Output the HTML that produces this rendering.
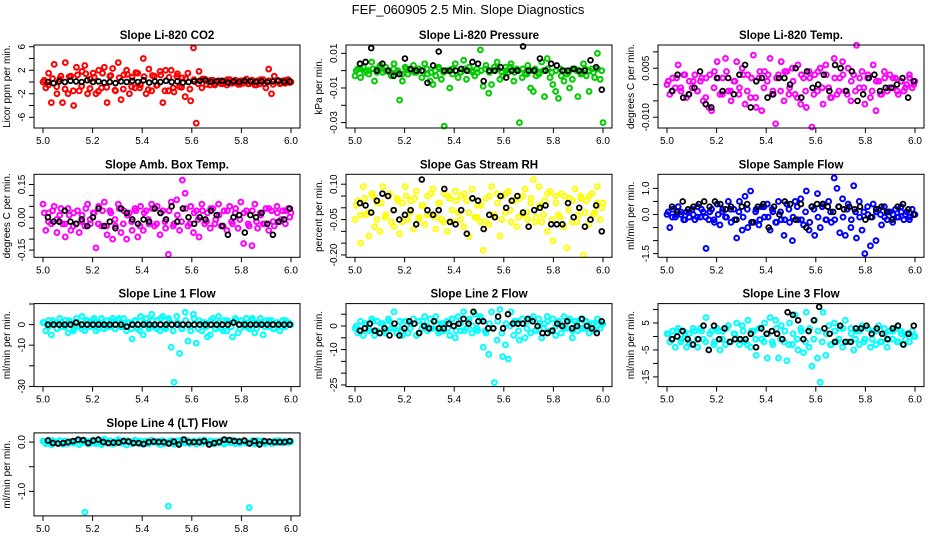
<!DOCTYPE html>
<html><head><meta charset="utf-8"><style>
html,body{margin:0;padding:0;background:#fff}
svg{display:block;font-family:"Liberation Sans",sans-serif}
</style></head><body>
<svg id="chart" width="936" height="540" viewBox="0 0 936 540">
<text x="468" y="14" text-anchor="middle" font-size="13">FEF_060905  2.5 Min. Slope Diagnostics</text>
</svg>
<script>
// ---- data (colored series: values per record; black: 30-min averages) ----
const co2Vals=[0,-1,1.5,-3.5,3,-2,0.5,-3.5,3.3,-2,1,-4,2.5,-1.5,1.8,2.8,-2,0.5,1.5,-2,2,-1,2.5,-3.5,1,2.3,-1.5,3.3,-3,1.2,2,-2,0.8,-1,1.5,-0.5,4,-2,2.2,-1.5,1,-0.5,1.8,-3.5,2,-1.5,2,-1.7,1,-0.8,0.7,-2.5,1.5,-3.2,5.8,-7,1.8,-1,0.5,0.2,-0.5,0.3,-0.3,0.2,-0.3,0.1,-0.5,0.4,-0.2,0.3,-0.4,0.2,-0.2,0.5,-0.3,0.3,-0.5,0.2,-0.3,0.4,-1,2.2,-2,1,0.3,-0.3,0.2,-0.2,0.4,0];
const co2Core=[0.3,-0.5,0.6,-0.8,1,-1.2,0.9,-1.5,1.2,-0.7,1.4,-1.1,0.8,-1.6,1.5,-0.9,1.1,-1.4,0.7,-1.2,1.3,-0.8,1.6,-1,0.9,-1.3,1.1,-0.6,1.2,-1.5,0.8,-1,1.4,-0.9,0.6,-1.2,0.4,-0.3,0.5,-0.4,0.3,-0.5,0.2,-0.3,0.4,-0.2,0.3,-0.4,0.2,-0.3,0.3,-0.5,0.4,-0.3,0.2,-0.4,0.3,-0.2,0.3,-0.1];
const co2Avg=[0,-0.2,0.1,0,0.2,0.1,0,0.3,0,0.1,-0.1,0,-0.2,0.1,0,0.2,0,0.3,-0.1,0.1,0,0.2,0,0.1,-0.1,0,0.1,0.2,0.3,0,0.1,0.2,-0.1,0.1,0,0.2,0.1,0,0.1,0,0.1,0.2,0,0.1];
const presVals=[-0.003,0.001,-0.004,0.002,0,-0.002,0.005,-0.006,0.001,0.003,-0.001,0.002,0,-0.003,0.004,-0.001,-0.017,-0.006,0.002,-0.002,0,0.003,-0.001,0.001,-0.004,0.004,-0.002,-0.006,-0.008,-0.003,0.002,-0.005,-0.032,0,-0.01,-0.002,0.004,-0.004,-0.001,0.006,-0.005,0.002,0,-0.003,-0.001,0.012,-0.009,0.003,-0.013,-0.008,0.002,0.005,-0.005,-0.003,0.002,-0.001,0.004,-0.006,0.001,-0.03,-0.004,-0.002,0.003,-0.01,-0.012,-0.003,-0.002,0.005,-0.015,0.007,-0.004,-0.008,-0.012,-0.016,-0.003,-0.006,-0.002,-0.01,-0.005,0.001,-0.015,-0.002,0.004,-0.003,-0.012,0.001,-0.004,0.01,-0.005,-0.03];
const presCore=[0,0.001,-0.001,0,0.001,-0.001,0.002,0,-0.001,0.001,0,-0.002,0.001,0,-0.001,0.001,0,0.001,-0.001,0,0.001,-0.001,0,0.001,0,-0.001,0.001,0,-0.001,0.001,0,0.001,-0.001,0,0.001,-0.001,0,0.002,-0.001,0,0.001,-0.002,0,0.001,-0.001,0,0.001,-0.001,0,0.001,0,-0.001,0.001,0,-0.001,0.001,0,-0.001,0.001,0];
const presAvg=[0.004,0.005,0.013,0,0.004,0,-0.003,-0.002,0.007,0.001,0,0,-0.007,0.003,0.011,0,0,0,0.001,0,0.005,0.004,-0.006,0,0,0.002,-0.004,0,0,0.014,0,0,0.007,0,0.004,0.003,0,0,0.001,0,0,0.006,0.002,-0.011];
const tempVals=[0,-0.003,0.002,-0.001,0.006,-0.002,0.003,-0.004,0.001,-0.001,0.003,-0.002,0.001,-0.005,0.002,-0.007,-0.008,0.004,0.007,-0.003,0.002,0.008,-0.002,-0.005,0.001,0.007,-0.001,0.005,-0.006,0.003,-0.004,0.009,-0.007,0.002,-0.008,0.004,0.001,0.008,-0.002,-0.012,0.003,0.007,-0.005,0.004,-0.001,0.005,-0.003,0.006,-0.006,0.002,-0.007,0.004,-0.013,0.003,-0.002,0.005,-0.006,0.006,-0.001,-0.004,0.008,-0.003,0.002,0.007,-0.002,0.005,-0.005,0.003,0.012,-0.001,0.004,-0.006,0.002,-0.004,0.006,-0.008,0.001,-0.003,0.004,-0.002,0.003,-0.001,0.002,-0.003,0.001,-0.002,0,0.003,-0.001,0.001];
const tempCore=[0.001,-0.002,0.002,-0.001,0.003,-0.003,0.001,-0.002,0.002,-0.004,0.003,-0.001,0.002,-0.003,0.004,-0.002,0.001,-0.003,0.003,-0.002,0.002,-0.004,0.004,-0.001,0.003,-0.003,0.002,-0.002,0.004,-0.003,0.001,-0.004,0.003,-0.002,0.002,-0.003,0.004,-0.001,0.003,-0.004,0.002,-0.002,0.003,-0.003,0.001,-0.002,0.002,-0.001,0.003,-0.002,0.001,-0.003,0.002,-0.001,0.002,-0.002,0.001,-0.001,0.002,0];
const tempAvg=[-0.002,0.003,-0.004,-0.003,-0.001,0.004,-0.006,-0.007,0.002,-0.002,0.002,-0.003,0.003,0.006,-0.007,0.001,0.002,-0.004,-0.003,0.002,0.002,0,0.005,-0.004,0.004,-0.001,0,0.003,-0.002,0.006,0.005,-0.002,0.004,-0.005,-0.003,0.002,0.003,-0.002,-0.001,-0.001,0,0.002,-0.004,0.001];
const ambVals=[0.06,-0.06,0.02,-0.03,0.05,-0.07,0.01,-0.03,-0.09,0.04,-0.06,0.02,-0.03,-0.07,0.01,-0.04,0.06,-0.03,0.02,-0.14,0.05,-0.04,0.07,-0.08,0.03,-0.1,-0.04,0.06,-0.07,0.03,-0.1,0.02,-0.06,0.04,-0.09,0.05,-0.06,0.03,-0.03,0.06,-0.04,0.05,-0.08,0.03,-0.05,-0.17,0.07,-0.03,0.08,-0.06,0.17,0.11,-0.04,0.05,-0.07,0.03,-0.09,0.06,-0.03,0.02,-0.05,0.04,-0.01,0.06,-0.04,0.03,-0.06,0.05,-0.03,0.02,-0.05,0.07,-0.12,0.03,-0.04,-0.13,0.06,-0.05,0.02,-0.03,0.04,-0.06,0.03,-0.04,0.05,-0.02,0.03,-0.03,0.04,0.02];
const ambCore=[0.02,-0.02,0.03,-0.01,0.04,-0.03,0.01,-0.04,0.03,-0.02,0.04,-0.01,0.02,-0.03,0.03,-0.04,0.02,-0.01,0.04,-0.03,0.01,-0.02,0.03,-0.04,0.02,-0.01,0.04,-0.03,0.02,-0.02,0.03,-0.04,0.01,-0.02,0.04,-0.03,0.02,-0.01,0.03,-0.02,0.04,-0.03,0.01,-0.04,0.03,-0.02,0.04,-0.01,0.02,-0.03,0.03,-0.02,0.01,-0.03,0.04,-0.02,0.02,-0.01,0.03,0];
const ambAvg=[0,-0.02,-0.02,0.03,-0.02,-0.03,-0.01,-0.04,0,0.04,-0.04,-0.02,-0.05,0.04,0.02,-0.01,-0.03,-0.01,-0.02,0.04,0.02,-0.01,0.05,-0.02,0.04,0,-0.03,0,-0.01,0.03,0.01,-0.04,-0.08,0,0.01,-0.07,0.01,0,0.02,-0.03,-0.08,-0.02,-0.01,0.04];
const rhVals=[-0.05,0.03,-0.15,0.09,-0.03,-0.12,0.06,-0.08,0.02,-0.1,0.09,-0.03,0.05,-0.06,-0.08,0.04,-0.11,0.02,0.09,-0.05,0.03,-0.09,0.07,-0.04,0.01,-0.07,0.05,-0.03,0.08,-0.09,0.02,-0.05,0.06,-0.1,0.04,-0.06,0.07,-0.02,0.05,-0.08,0.03,-0.12,0.08,-0.04,0.01,-0.06,-0.18,0.04,-0.07,0.09,-0.03,0.06,-0.12,0.05,-0.02,0.07,-0.06,0.03,-0.08,0.04,-0.03,0.08,-0.05,0.02,0.12,-0.04,0.09,-0.06,0.03,-0.1,0.07,-0.14,0.05,-0.03,0.06,-0.08,-0.17,0.04,-0.06,0.08,-0.03,0.05,-0.2,0.03,-0.07,0.06,-0.02,0.09,-0.05,0.02];
const rhCore=[0.01,-0.03,0.04,-0.02,0.05,-0.05,0.02,-0.04,0.06,-0.01,0.03,-0.06,0.05,-0.02,0.04,-0.05,0.01,-0.03,0.06,-0.04,0.02,-0.06,0.05,-0.01,0.03,-0.05,0.06,-0.02,0.04,-0.04,0.01,-0.06,0.05,-0.03,0.02,-0.05,0.06,-0.01,0.03,-0.04,0.05,-0.02,0.04,-0.06,0.01,-0.03,0.06,-0.05,0.02,-0.04,0.05,-0.01,0.03,-0.06,0.04,-0.02,0.05,-0.03,0.02,0];
const rhAvg=[0.02,0.01,-0.02,0.03,0.06,0.05,-0.01,-0.05,-0.03,-0.01,-0.07,0.12,-0.01,-0.03,-0.01,0.08,-0.06,-0.07,-0.01,-0.11,0.04,0.03,-0.09,-0.03,-0.04,0.05,0,0.03,0.05,-0.02,-0.08,-0.01,0,0.01,-0.07,-0.07,-0.07,0.02,-0.04,0,-0.08,-0.05,0.01,-0.1];
const sampVals=[0,-0.5,0.2,-0.1,0.3,0,-0.2,0.1,-0.1,0.2,-0.2,0.3,-0.1,0.1,-1.3,-0.2,0.2,-0.3,0.4,-0.4,0.2,-0.1,0.5,-0.3,0.2,-0.9,0.5,-0.6,0.7,-0.5,0.9,-0.3,0.2,-0.4,0.3,-0.1,0.4,-0.6,0.1,-0.3,0.5,-0.2,-0.8,0.4,-0.3,-1,0.5,-0.2,0.6,-0.4,0.9,-0.6,0.3,-0.8,0.8,-0.5,0.4,-0.2,0.5,-0.3,1.4,1,-0.7,0.6,-0.8,0.4,-0.5,1.1,-0.9,0.5,-0.6,-1.5,0.3,-1.2,0.4,-1,0.2,-0.4,0.3,-0.2,0.1,-0.3,0.2,-0.1,0.3,-0.2,0.1,-0.2,0.2,0];
const sampCore=[0.1,-0.1,0,0.1,-0.2,0.1,0,-0.1,0.2,-0.1,0.1,-0.2,0,0.1,-0.1,0.2,-0.2,0.1,-0.1,0.2,-0.3,0.1,-0.2,0.3,-0.1,0.2,-0.3,0.1,-0.2,0.2,-0.1,0.3,-0.2,0.1,-0.3,0.2,-0.1,0.3,-0.2,0.1,-0.2,0.3,-0.1,0.2,-0.2,0.1,-0.1,0.1,0,-0.1,0.1,0,-0.1,0.1,0,-0.1,0.1,0,-0.1,0];
const sampAvg=[0.3,0.1,0.5,0.2,0.3,0.4,0.5,0.3,0.5,0.4,0.2,0.3,-0.2,0.3,0.4,-0.3,0.3,0.4,-0.5,0.3,0,0.5,0.4,-0.2,0.4,-0.5,0.3,0.4,0.4,0.3,0.1,0.3,0.2,0.3,0.2,0.3,-0.2,-0.1,0.2,0.3,0.1,-0.2,0.3,0.4,0.2,0];
const l1Vals=[1,-3,2,-5,1,-2,3,-1,2,-4,1,-2,3,-1,4,-3,2,-1,2,-3,1,3,-2,2,-1,3,-2,2,-1,3,-3,1,-7,2,-2,4,-5,3,-2,5,-1,2,-3,4,-2,3,-11,-28,4,-14,-2,6,-8,-3,5,-9,2,-3,1,-6,-5,3,-2,4,-2,2,-3,1,-6,3,-4,2,-1,3,-2,2,-4,1,3,-5,2,-1,2,-2,1,-3,2,-1,1,0];
const l1Core=[1,-1,2,-2,1,-1,2,-3,1,-2,2,-1,3,-2,1,-1,2,-2,3,-1,1,-2,2,-3,1,-1,2,-2,3,-1,2,-3,1,-2,2,-1,3,-2,1,-1,2,-2,1,-3,2,-1,2,-2,1,-1,3,-2,1,-1,2,-2,1,-1,2,0];
const l1Avg=[0,0,0,0,0,1,0,0,0,0,0,0,0,0,-1,0,0,0,0,0,0,0,0,0,0,0,0,0,0,0,0,0,0,1,0,0,0,0,0,0,0,0,0,0];
const l2Vals=[-1,-3,2,-4,1,-2,3,-4,2,-3,1,-2,3,-1,6,-3,2,-4,2,-3,1,3,-4,2,-1,4,-2,3,-1,4,-3,1,-2,2,-4,3,-5,4,-2,6,-1,3,-3,5,-2,4,-9,-3,-12,6,-24,-6,7,-13,-8,-14,6,-4,2,-6,3,-5,2,-3,4,-2,3,-5,1,4,-2,3,-4,2,-3,4,-1,3,-5,2,-2,3,-1,2,-3,1,-2,3,-1,1];
const l2Core=[0,-2,1,-1,2,-2,1,-3,2,-1,0,-2,2,-1,1,-3,2,0,-1,2,-2,1,-1,3,-2,1,-2,2,0,-1,3,-2,1,-1,2,-3,1,0,2,-2,1,-1,3,-2,1,-1,2,-2,0,1,-1,2,-2,1,-1,2,-1,1,0,1];
const l2Avg=[-2,-1,1,-2,-3,-1,-4,1,-4,-1,2,1,-3,0,-1,2,-1,-1,1,0,1,3,1,6,2,2,-1,-1,4,-1,5,1,1,1,3,2,0,-3,-3,-2,1,0,2,-1,0,3,0,-1,-3,2];
const l3Vals=[1,-2,2,-4,3,-1,2,-4,1,-3,2,-4,3,-1,7,-5,2,-2,3,-5,2,-3,4,-2,1,5,-3,4,-2,6,-4,2,-7,3,-1,5,-8,7,-3,6,-8,4,-2,-9,5,-3,8,-5,3,-6,9,-4,-11,6,-8,-17,9,-7,4,-3,5,-2,3,-4,6,-2,3,-5,2,-3,4,-1,3,-4,2,-3,4,-2,3,-4,2,-1,3,-2,2,-3,1,-2,2,0];
const l3Core=[1,-1,2,-2,1,-2,3,-1,2,-2,1,-3,2,-1,3,-2,1,-1,2,-3,2,-1,3,-2,1,-2,3,-1,2,-3,1,-1,2,-2,3,-1,2,-2,1,-3,2,-1,3,-2,1,-1,2,-2,3,-1,2,-2,1,-1,2,-2,1,-1,1,0];
const l3Avg=[-1,0,2,-1,-3,-1,4,-5,4,-1,3,-2,-1,-1,-1,1,-4,3,1,2,1,-1,9,8,6,-1,2,6,11,3,1,-2,4,-2,-2,3,3,4,1,3,1,-1,3,4,-3,1,4];
const l4Vals=[0.02,-0.03,0.04,-0.05,0.01,-0.02,0.03,-0.04,0.02,-0.03,0.01,-0.02,0.03,-0.05,0.01,-1.42,-0.03,0.02,0.04,-0.03,0.02,-0.05,0.06,-0.02,0.03,-0.04,0.01,0.05,-0.02,0.03,-0.06,0.01,-0.03,0.04,-0.02,0.02,-0.04,0.02,-0.03,0.04,-0.01,0.02,-0.05,0.03,-0.01,-1.3,0.03,-0.04,0.02,-0.03,0.05,-0.02,0.03,-0.01,0.02,-0.04,0.03,-0.02,0.04,-0.01,0.02,-0.03,0.01,-0.02,0.03,-0.04,0.02,-0.01,0.04,-0.03,0.02,-0.01,0.03,-0.02,-1.33,0.02,-0.04,0.03,-0.01,0.02,-0.02,0.01,-0.03,0.02,-0.01,0.03,-0.02,0.01,-0.01,0.01];
const l4Core=[0.01,-0.02,0.03,-0.01,0.02,-0.03,0.01,-0.02,0.03,-0.01,0.02,-0.03,0.01,-0.02,0.03,-0.01,0.02,-0.03,0.01,-0.02,0.03,-0.01,0.02,-0.03,0.01,-0.02,0.03,-0.01,0.02,-0.03,0.01,-0.02,0.03,-0.01,0.02,-0.03,0.01,-0.02,0.03,-0.01,0.02,-0.03,0.01,-0.02,0.03,-0.01,0.02,-0.03,0.01,-0.02,0.03,-0.01,0.02,-0.03,0.01,-0.02,0.03,-0.01,0.02,0];
const l4Avg=[0.03,-0.02,-0.03,-0.02,0,0.02,0.05,0.04,-0.02,0.03,0.05,0,-0.02,-0.01,-0.01,0.02,0.01,-0.02,-0.02,-0.04,0,0.01,0,0,-0.03,0.01,-0.05,0.05,0,0,0,0.02,-0.05,-0.02,0,0.05,0.04,0.02,0.01,0.03,-0.03,0.02,-0.05,0.02,0.01,0,0,0,0.02];
const xTicks=[5.0,5.2,5.4,5.6,5.8,6.0];
const xTickLabels=["5.0","5.2","5.4","5.6","5.8","6.0"];
const panelTitles=["Slope Li-820 CO2","Slope Li-820 Pressure","Slope Li-820 Temp.","Slope Amb. Box Temp.","Slope Gas Stream RH","Slope Sample Flow","Slope Line 1 Flow","Slope Line 2 Flow","Slope Line 3 Flow","Slope Line 4 (LT) Flow"];
const yAxisTitles=["Licor ppm per min.","kPa per min.","degrees C per min.","degrees C per min.","percent per min.","ml/min per min.","ml/min per min.","ml/min per min.","ml/min per min.","ml/min per min."];
const yTicks=[[6,4,2,0,-2,-4,-6],[0.01,0,-0.01,-0.02,-0.03],[0.01,0.005,0,-0.005,-0.01],[0.15,0.1,0.05,0,-0.05,-0.1,-0.15],[0.1,0.05,0,-0.05,-0.1,-0.15,-0.2],[1,0.5,0,-0.5,-1,-1.5],[10,0,-10,-20,-30],[5,0,-5,-10,-15,-20,-25],[10,5,0,-5,-10,-15],[0,-0.5,-1]];
const yTickLabels=[["6","","2","","-2","","-6"],["0.01","","-0.01","","-0.03"],["","0.005","","","-0.010"],["0.15","","","0.00","","","-0.15"],["0.10","","","-0.05","","","-0.20"],["1.0","","0.0","","","-1.5"],["","0","-10","","-30"],["","0","","-10","","","-25"],["","5","","-5","","-15"],["0.0","","-1.0"]];
const yDomains=[[6.29,-7.82],[0.0148,-0.0331],[0.0121,-0.0133],[0.1965,-0.183],[0.142,-0.21],[1.54,-1.64],[10.2,-30.1],[9.5,-25.7],[12.2,-18.6],[0.186,-1.497]];
const seriesVals=[co2Vals,presVals,tempVals,ambVals,rhVals,sampVals,l1Vals,l2Vals,l3Vals,l4Vals];
const seriesCore=[co2Core,presCore,tempCore,ambCore,rhCore,sampCore,l1Core,l2Core,l3Core,l4Core];
const seriesAvg=[co2Avg,presAvg,tempAvg,ambAvg,rhAvg,sampAvg,l1Avg,l2Avg,l3Avg,l4Avg];
const seriesColors=["#ff0000","#00cc00","#ff00ff","#ff00ff","#ffff00","#0000ff","#00ffff","#00ffff","#00ffff","#00ffff"];

const NS="http://www.w3.org/2000/svg";
const svg=document.getElementById('chart');
function mk(tag,attrs,parent){const e=document.createElementNS(NS,tag);for(const k in attrs)e.setAttribute(k,attrs[k]);(parent||svg).appendChild(e);return e;}
const keys=["co2","pressure","temp","amb-box-temp","rh","sample-flow","line1-flow","line2-flow","line3-flow","line4-flow"];
for(let p=0;p<10;p++){
  const c=p%3,r=Math.floor(p/3);
  const bx0=34+312*c,bx1=300+312*c,by0=45+129.3*r,by1=by0+83;
  const g=mk('g',{});
  
  
  const xs=v=>bx0+9+(v-5)*248;
  const [top,bot]=yDomains[p];
  const ys=v=>by0+(top-v)/(top-bot)*(by1-by0);
  const t=mk('text',{x:(bx0+bx1)/2,y:by0-6,'text-anchor':'middle','font-size':'11.5','font-weight':'bold'},g);
  t.textContent=panelTitles[p];
  
  
  const yt=mk('text',{transform:`translate(${bx0-24},${(by0+by1)/2}) rotate(-90)`,'text-anchor':'middle','font-size':'10'},g);
  yt.textContent=yAxisTitles[p];
  
  
  const pg=mk('g',{fill:'none',stroke:seriesColors[p],'stroke-width':'2'},g);
  
  
  const core=seriesCore[p];
  core.forEach((v,i)=>{
    const cc=mk('circle',{cx:xs(5.005+i*0.99/(core.length-1)),cy:ys(v),r:2.4},pg);
    
    
  });
  const vals=seriesVals[p];
  vals.forEach((v,i)=>{
    const cc=mk('circle',{cx:xs(5+i/(vals.length-1)),cy:ys(v),r:2.4},pg);
    
    
  });
  const av=seriesAvg[p];
  const ag=mk('g',{fill:'none',stroke:'#000','stroke-width':'1.8'},g);
  
  
  av.forEach((v,i)=>{
    const cc=mk('circle',{cx:xs(5.02+i*0.975/(av.length-1)),cy:ys(v),r:2.4},ag);
    
    
  });
  const b=mk('rect',{x:bx0,y:by0,width:bx1-bx0,height:by1-by0,fill:'none',stroke:'#000','stroke-width':'1'},g);
  
  
  xTicks.forEach((v,i)=>{
    const X=xs(v);
    mk('line',{x1:X,x2:X,y1:by1,y2:by1+5,stroke:'#000'},g);
    const tl=mk('text',{x:X,y:by1+16,'text-anchor':'middle','font-size':'10'},g);
    tl.textContent=xTickLabels[i];
    
    
  });
  yTicks[p].forEach((v,i)=>{
    const Y=ys(v);
    mk('line',{x1:bx0-5,x2:bx0,y1:Y,y2:Y,stroke:'#000'},g);
    if(yTickLabels[p][i]){
      const tl=mk('text',{transform:`translate(${bx0-9},${Y}) rotate(-90)`,'text-anchor':'middle','font-size':'10'},g);
      tl.textContent=yTickLabels[p][i];
      
      
    }
  });
}
</script>
</body></html>
